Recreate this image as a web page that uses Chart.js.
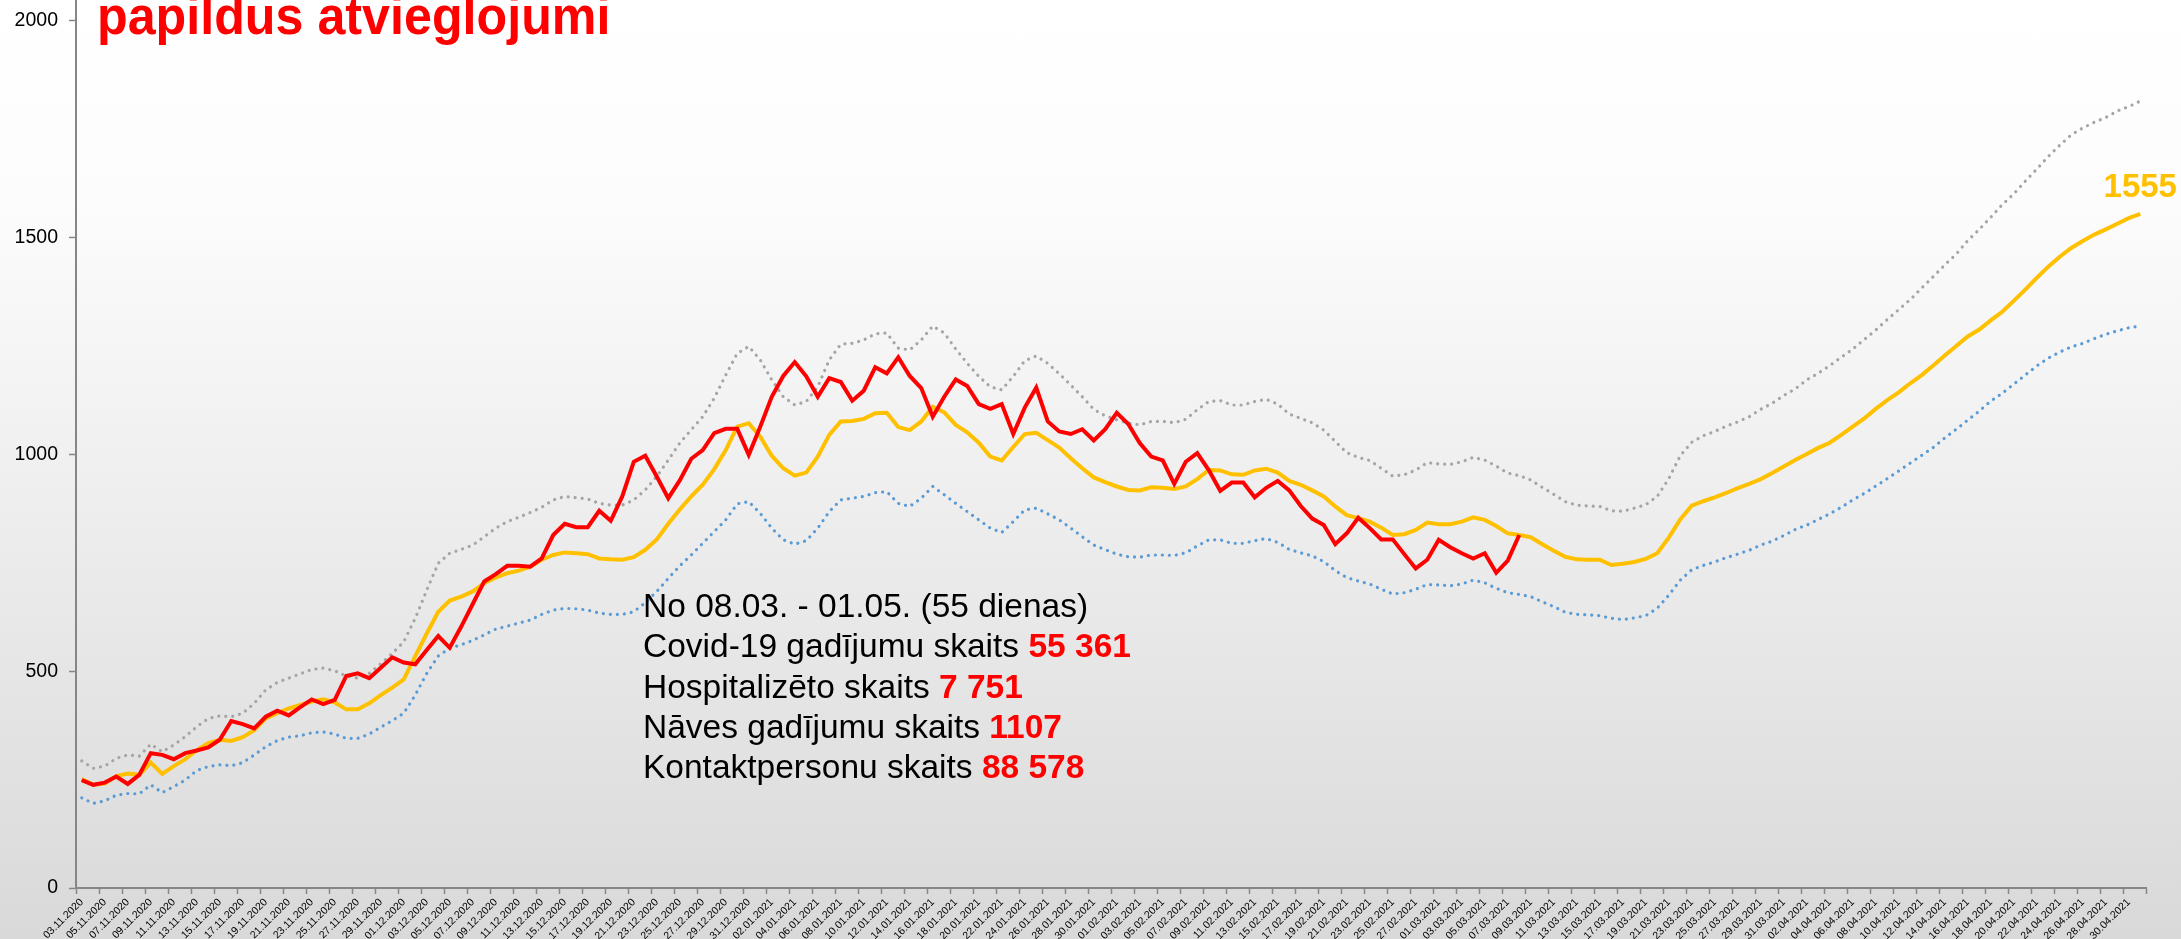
<!DOCTYPE html>
<html lang="lv">
<head>
<meta charset="utf-8">
<title>Covid-19 prognoze</title>
<script src="https://cdn.jsdelivr.net/npm/chart.js@4.4.1/dist/chart.umd.min.js"></script>
<style>
    html, body { margin: 0; padding: 0; }
    #wrap {
        position: relative;
        width: 2181px;
        height: 939px;
        background: linear-gradient(to bottom, #ffffff 0%, #fcfcfc 22%, #d9d9d9 100%);
    }
</style>
</head>
<body>
<div id="wrap"><canvas id="chart" width="2181" height="939"></canvas></div>
<script>
// Data
const titleText = "papildus atvieglojumi";

// one category per day, 03.11.2020 - 01.05.2021
const dateLabels = [];
for (let i = 0; i < 180; i++) {
    const d = new Date(2020, 10, 3 + i);
    dateLabels.push(
        String(d.getDate()).padStart(2, "0") + "." +
        String(d.getMonth() + 1).padStart(2, "0") + "." + d.getFullYear()
    );
}

const yTicks = [0, 500, 1000, 1500, 2000];

// actual cases (ends 08.03.2021)
const actual = [
    249, 238, 243, 257, 240, 261, 311, 307, 297, 311, 317, 324, 342, 385, 378, 368, 395, 409, 398, 417,
    435, 424, 434, 489, 495, 484, 508, 532, 520, 516, 549, 581, 554, 603, 655, 707, 724, 743, 743, 741,
    760, 814, 840, 832, 832, 870, 847, 903, 983, 997, 949, 899, 940, 990, 1010, 1049, 1059, 1059, 999, 1064,
    1133, 1181, 1213, 1180, 1133, 1176, 1167, 1124, 1147, 1201, 1187, 1224, 1181, 1153, 1087, 1133, 1173, 1158, 1116, 1105,
    1116, 1047, 1108, 1154, 1076, 1053, 1047, 1058, 1032, 1058, 1096, 1070, 1026, 995, 986, 932, 983, 1003, 964, 916,
    935, 935, 901, 923, 939, 917, 881, 852, 837, 793, 818, 854, 830, 804, 804, 770, 737, 757, 803, 786,
    772, 760, 772, 727, 755, 814
];

// smoothed / forecast
const forecast = [
    251, 238, 241, 258, 264, 261, 289, 263, 281, 297, 318, 334, 342, 339, 348, 364, 391, 403, 414, 422,
    430, 435, 428, 412, 412, 426, 445, 462, 481, 535, 587, 637, 663, 672, 684, 703, 716, 726, 732, 741,
    757, 768, 774, 772, 770, 760, 758, 757, 763, 780, 804, 840, 873, 903, 930, 966, 1010, 1064, 1072, 1041,
    997, 968, 951, 958, 995, 1045, 1076, 1077, 1082, 1095, 1096, 1063, 1056, 1076, 1110, 1097, 1068, 1051, 1027, 995,
    986, 1017, 1047, 1050, 1033, 1016, 991, 968, 947, 936, 926, 918, 917, 924, 923, 920, 926, 943, 964, 963,
    954, 953, 963, 967, 958, 939, 930, 917, 903, 880, 860, 853, 845, 831, 814, 816, 826, 843, 839, 839,
    845, 855, 849, 835, 818, 814, 809, 793, 778, 764, 758, 757, 757, 745, 748, 752, 759, 772, 808, 850,
    882, 892, 901, 911, 922, 932, 943, 957, 972, 987, 1001, 1015, 1027, 1045, 1064, 1083, 1105, 1125, 1143, 1164,
    1183, 1205, 1228, 1250, 1272, 1288, 1309, 1329, 1354, 1380, 1407, 1433, 1456, 1476, 1492, 1507, 1519, 1532, 1545, 1555
];

// upper bound (grey dots)
const upper = [
    293, 276, 281, 299, 307, 304, 332, 314, 330, 349, 372, 391, 397, 395, 403, 426, 457, 474, 484, 494,
    504, 507, 501, 489, 484, 495, 517, 541, 568, 622, 687, 749, 772, 781, 791, 810, 830, 845, 855, 866,
    878, 895, 903, 900, 897, 887, 883, 883, 895, 918, 949, 987, 1026, 1057, 1087, 1130, 1183, 1233, 1249, 1218,
    1172, 1133, 1114, 1122, 1156, 1218, 1254, 1256, 1264, 1278, 1280, 1245, 1241, 1264, 1296, 1280, 1243, 1210, 1180, 1156,
    1149, 1180, 1216, 1227, 1210, 1186, 1160, 1133, 1104, 1089, 1080, 1072, 1068, 1076, 1076, 1073, 1081, 1103, 1122, 1124,
    1114, 1114, 1122, 1127, 1116, 1093, 1083, 1073, 1056, 1030, 1004, 993, 986, 968, 950, 953, 964, 981, 978, 977,
    983, 993, 987, 973, 957, 951, 941, 924, 908, 891, 883, 881, 880, 870, 869, 876, 884, 903, 944, 997,
    1028, 1043, 1053, 1065, 1075, 1087, 1104, 1118, 1136, 1151, 1172, 1187, 1205, 1224, 1243, 1265, 1287, 1311, 1334, 1357,
    1384, 1410, 1437, 1462, 1493, 1519, 1547, 1576, 1601, 1630, 1658, 1687, 1713, 1737, 1753, 1766, 1777, 1792, 1802, 1815
];

// lower bound (blue dots)
const lower = [
    208, 195, 201, 214, 218, 217, 238, 220, 234, 249, 271, 280, 284, 282, 289, 307, 326, 340, 348, 351,
    358, 360, 355, 345, 345, 355, 371, 386, 403, 445, 495, 535, 553, 561, 571, 584, 597, 604, 611, 618,
    631, 641, 645, 644, 641, 634, 631, 631, 637, 658, 684, 714, 743, 768, 795, 822, 849, 886, 891, 864,
    830, 803, 793, 801, 830, 868, 895, 899, 903, 912, 914, 887, 880, 899, 926, 907, 887, 868, 849, 830,
    820, 845, 872, 876, 863, 849, 830, 810, 791, 780, 770, 764, 763, 768, 768, 767, 773, 789, 803, 803,
    795, 795, 801, 806, 797, 781, 773, 766, 753, 732, 716, 708, 701, 689, 678, 681, 689, 700, 699, 697,
    701, 710, 704, 691, 681, 677, 672, 660, 649, 636, 631, 630, 628, 622, 619, 623, 628, 645, 675, 710,
    734, 744, 752, 762, 770, 779, 791, 800, 813, 827, 837, 850, 863, 878, 895, 910, 927, 944, 962, 980,
    998, 1016, 1038, 1058, 1079, 1100, 1123, 1141, 1162, 1183, 1204, 1222, 1236, 1248, 1256, 1267, 1277, 1285, 1292, 1296
];

const summaryHeader = "No 08.03. - 01.05. (55 dienas)";
const summaryLabels = ["Covid-19 gadījumu skaits", "Hospitalizēto skaits", "Nāves gadījumu skaits", "Kontaktpersonu skaits"];
const summaryValues = ["55 361", "7 751", "1107", "88 578"];

const FONT = '"Liberation Sans", Arial, sans-serif';
const AXIS_GREY = "#868686";

// Title, summary text and end value label
const textPlugin = {
    id: "texts",
    afterDraw(chart) {
        const ctx = chart.ctx;
        ctx.save();
        ctx.textBaseline = "alphabetic";

        // title is a condensed bold face, cut at the top edge
        ctx.save();
        ctx.translate(97, 34);
        ctx.scale(0.93, 1);
        ctx.font = "bold 54px " + FONT;
        ctx.fillStyle = "#ff0000";
        ctx.textAlign = "left";
        ctx.fillText(titleText, 0, 0);
        ctx.restore();

        const x0 = 643;
        const normal = "33.5px " + FONT;
        const bold = "bold 33.5px " + FONT;
        ctx.font = normal;
        ctx.fillStyle = "#000000";
        ctx.fillText(summaryHeader, x0, 617);
        summaryLabels.forEach((label, k) => {
            const y = 617 + (k + 1) * 40.3;
            ctx.font = normal;
            ctx.fillStyle = "#000000";
            ctx.fillText(label, x0, y);
            const w = ctx.measureText(label + " ").width;
            ctx.font = bold;
            ctx.fillStyle = "#ff0000";
            ctx.fillText(summaryValues[k], x0 + w, y);
        });

        const meta = chart.getDatasetMeta(1);
        const last = meta.data[meta.data.length - 1];
        ctx.font = "bold 33px " + FONT;
        ctx.fillStyle = "#ffc000";
        ctx.textAlign = "center";
        ctx.fillText(String(forecast[forecast.length - 1]), last.x, last.y - 17);
        ctx.restore();
    }
};

const ctx = document.getElementById("chart").getContext("2d");
new Chart(ctx, {
    type: "line",
    data: {
        labels: dateLabels,
        datasets: [
            {
                label: "Faktiskie",
                data: actual,
                borderColor: "#ff0000",
                borderWidth: 4,
                pointRadius: 0,
                tension: 0
            },
            {
                label: "Prognoze",
                data: forecast,
                borderColor: "#ffc000",
                borderWidth: 4,
                pointRadius: 0,
                tension: 0
            },
            {
                label: "Augšējā robeža",
                data: upper,
                borderColor: "#a5a5a5",
                borderWidth: 3.2,
                borderDash: [0.01, 7],
                borderCapStyle: "round",
                pointRadius: 0,
                tension: 0
            },
            {
                label: "Apakšējā robeža",
                data: lower,
                borderColor: "#5b9bd5",
                borderWidth: 3.2,
                borderDash: [0.01, 7],
                borderCapStyle: "round",
                pointRadius: 0,
                tension: 0
            }
        ]
    },
    options: {
        responsive: false,
        animation: false,
        devicePixelRatio: 1,
        layout: { padding: { top: 0, right: 35, bottom: 0, left: 0 } },
        plugins: {
            legend: { display: false },
            tooltip: { enabled: false }
        },
        scales: {
            x: {
                type: "category",
                offset: true,
                border: { color: AXIS_GREY, width: 2 },
                grid: {
                    offset: true,
                    drawOnChartArea: false,
                    tickLength: 6,
                    tickWidth: 1.5,
                    tickColor: (c) => (c.index === undefined || c.index % 2 === 0) ? AXIS_GREY : "rgba(0,0,0,0)"
                },
                ticks: {
                    autoSkip: false,
                    maxRotation: 45,
                    minRotation: 45,
                    padding: 2,
                    color: "#000000",
                    font: { family: FONT, size: 10.5 },
                    callback: (value, index) => index % 2 === 0 ? dateLabels[index] : ""
                },
                afterFit: (scale) => {
                    scale.height = 51;
                    scale.paddingLeft = 0;
                    scale.paddingRight = 0;
                }
            },
            y: {
                min: 0,
                max: 2048,
                border: { color: AXIS_GREY, width: 2 },
                grid: {
                    drawOnChartArea: false,
                    tickLength: 7,
                    tickWidth: 1.5,
                    tickColor: AXIS_GREY
                },
                ticks: {
                    stepSize: 500,
                    padding: 11,
                    color: "#000000",
                    font: { family: FONT, size: 19.5 },
                    callback: (value) => String(value)
                },
                afterBuildTicks: (scale) => {
                    scale.ticks = yTicks.map(v => ({ value: v }));
                },
                afterFit: (scale) => {
                    scale.width = 76;
                    scale.paddingTop = 0;
                    scale.paddingBottom = 0;
                }
            }
        }
    },
    plugins: [textPlugin]
});
</script>
</body>
</html>
